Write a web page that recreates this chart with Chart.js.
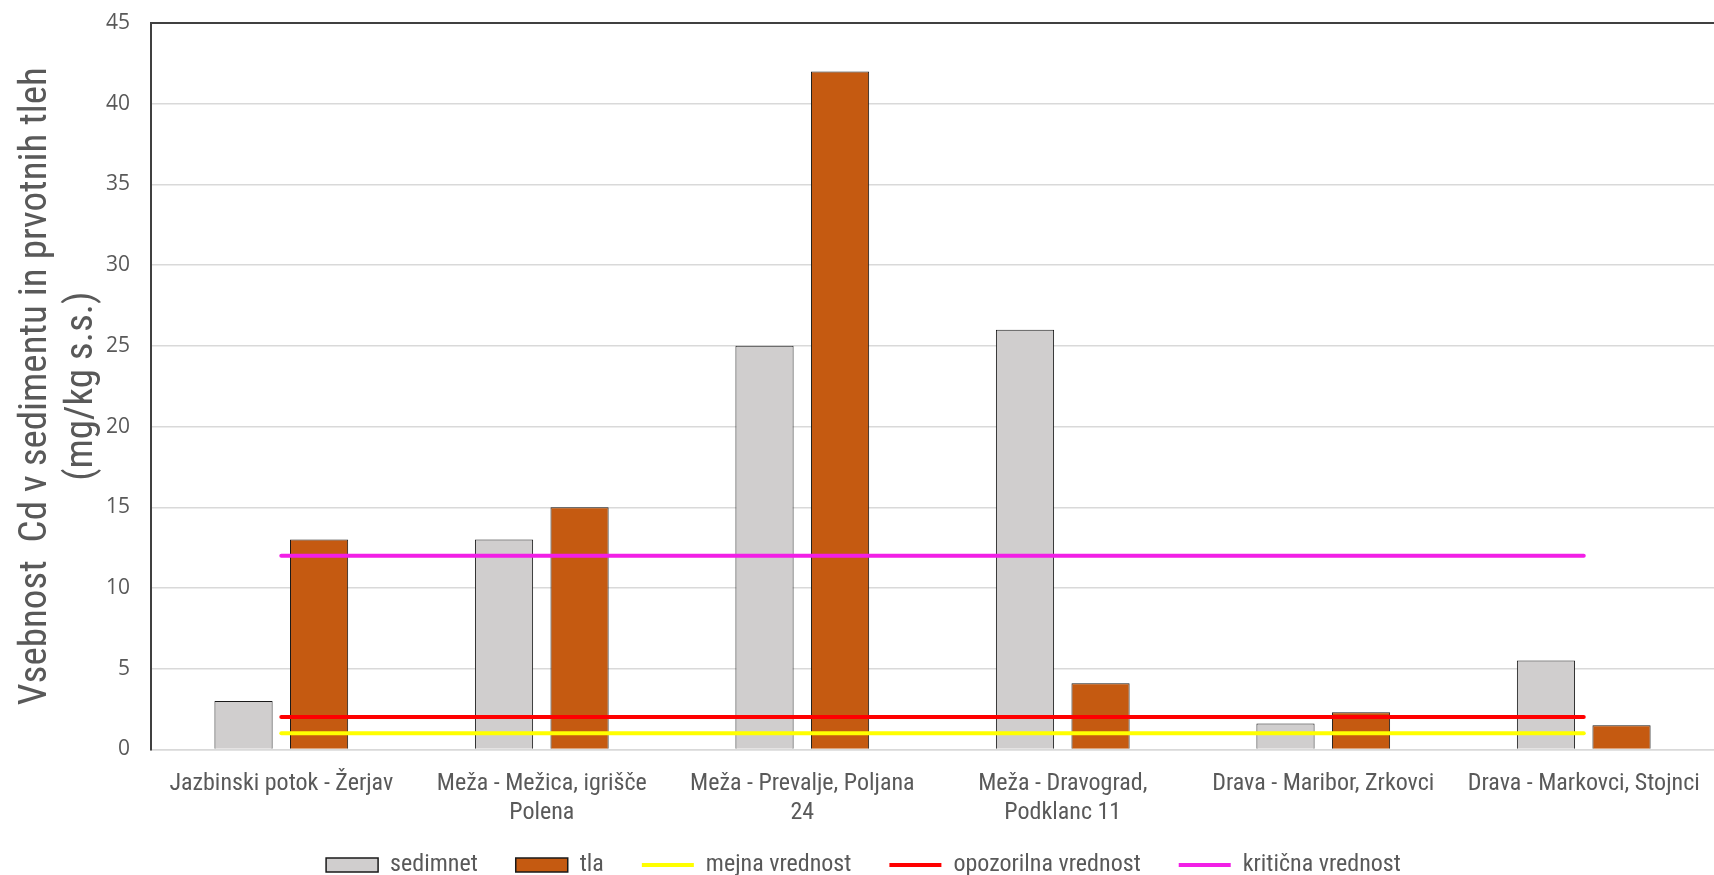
<!DOCTYPE html>
<html>
<head>
<meta charset="utf-8">
<title>Vsebnost Cd</title>
<script src="https://cdn.jsdelivr.net/npm/chart.js@4.4.1/dist/chart.umd.min.js"></script>
<style>
    html, body { margin: 0; padding: 0; background: #fff; }
    #wrap { width: 1714px; height: 875px; }
</style>
</head>
<body>
<div id="wrap"><canvas id="cdChart"></canvas></div>
<script>
// Categories (sampling sites)
const sites = [
    'Jazbinski potok - Žerjav',
    ['Meža - Mežica, igrišče', 'Polena'],
    ['Meža - Prevalje, Poljana', '24'],
    ['Meža - Dravograd,', 'Podklanc 11'],
    'Drava - Maribor, Zrkovci',
    'Drava - Markovci, Stojnci'
];

// Measured values (mg/kg s.s.)
const sedimnet = [3, 13, 25, 26, 1.6, 5.5];
const tla = [13, 15, 42, 4.1, 2.3, 1.5];

// Limit values
const mejna = [1, 1, 1, 1, 1, 1];
const opozorilna = [2, 2, 2, 2, 2, 2];
const kriticna = [12, 12, 12, 12, 12, 12];

const yTicks = [0, 5, 10, 15, 20, 25, 30, 35, 40, 45];

const narrow = '"Liberation Sans Narrow", "Roboto Condensed", "Noto Sans", sans-serif';
const textGray = '#595959';

const ctx = document.getElementById('cdChart').getContext('2d');

function limitLine(label, data, color) {
    return {
        type: 'line',
        label: label,
        data: data,
        borderColor: color,
        backgroundColor: color,
        borderWidth: 4,
        borderCapStyle: 'round',
        pointRadius: 0,
        pointHoverRadius: 0,
        order: 0
    };
}

// x labels get a shorter box for layout; give the box its room back before drawing
// so the second label line is not clipped
const labelRoom = {
    id: 'labelRoom',
    afterLayout: (chart) => {
        chart.scales.x.bottom += 40;
    }
};

const cdChart = new Chart(ctx, {
    type: 'bar',
    data: {
        labels: sites,
        datasets: [
            {
                label: 'sedimnet',
                data: sedimnet,
                backgroundColor: '#D0CECE',
                borderColor: '#1a1a1a',
                borderWidth: 1,
                categoryPercentage: 0.58,
                barPercentage: 0.77,
                order: 1
            },
            {
                label: 'tla',
                data: tla,
                backgroundColor: '#C55A11',
                borderColor: '#1a1a1a',
                borderWidth: 1,
                categoryPercentage: 0.58,
                barPercentage: 0.77,
                order: 1
            },
            limitLine('mejna vrednost', mejna, '#FFFF00'),
            limitLine('opozorilna vrednost', opozorilna, '#FF0000'),
            limitLine('kritična vrednost', kriticna, '#F21FE6')
        ]
    },
    plugins: [labelRoom],
    options: {
        responsive: true,
        maintainAspectRatio: false,
        animation: false,
        layout: {
            padding: { left: 13, top: 23, right: 0, bottom: -12 }
        },
        plugins: {
            tooltip: { enabled: false },
            legend: {
                position: 'bottom',
                labels: {
                    sort: (a, b) => a.datasetIndex - b.datasetIndex,
                    usePointStyle: true,
                    pointStyleWidth: 52,
                    boxHeight: 14,
                    padding: 38,
                    color: textGray,
                    font: { family: narrow, size: 24 },
                    generateLabels: (chart) => {
                        const items = Chart.defaults.plugins.legend.labels.generateLabels(chart);
                        items.forEach(item => {
                            const ds = chart.data.datasets[item.datasetIndex];
                            item.pointStyle = ds.type === 'line' ? 'line' : 'rect';
                            if (ds.type !== 'line') item.lineWidth = 1.5;
                        });
                        return items;
                    }
                }
            }
        },
        scales: {
            x: {
                grid: { display: false },
                border: { color: '#D9D9D9', width: 1.5 },
                // let the legend's empty top padding overlap the label area
                afterFit: (axis) => { axis.height -= 24; },
                ticks: {
                    color: textGray,
                    padding: 12,
                    maxRotation: 0,
                    autoSkip: false,
                    font: { family: narrow, size: 24, lineHeight: 1.2 }
                }
            },
            y: {
                min: 0,
                max: 45,
                afterBuildTicks: (axis) => {
                    axis.ticks = yTicks.map(v => ({ value: v }));
                },
                grid: {
                    drawTicks: true,
                    tickLength: 21,
                    tickColor: 'rgba(0,0,0,0)',
                    color: (c) => c.tick && c.tick.value === 45 ? '#404040' : '#D9D9D9',
                    lineWidth: (c) => c.tick && c.tick.value === 45 ? 2 : 1.5
                },
                border: { color: '#404040', width: 2 },
                ticks: {
                    color: textGray,
                    padding: 0,
                    font: { family: '"Open Sans", sans-serif', size: 21, lineHeight: 1 }
                },
                title: {
                    display: true,
                    text: ['Vsebnost  Cd v sedimentu in prvotnih tleh', '(mg/kg s.s.)'],
                    color: textGray,
                    padding: { top: 0, bottom: 1 },
                    font: { family: narrow, size: 39, lineHeight: 1.18 }
                }
            }
        }
    }
});
</script>
</body>
</html>
